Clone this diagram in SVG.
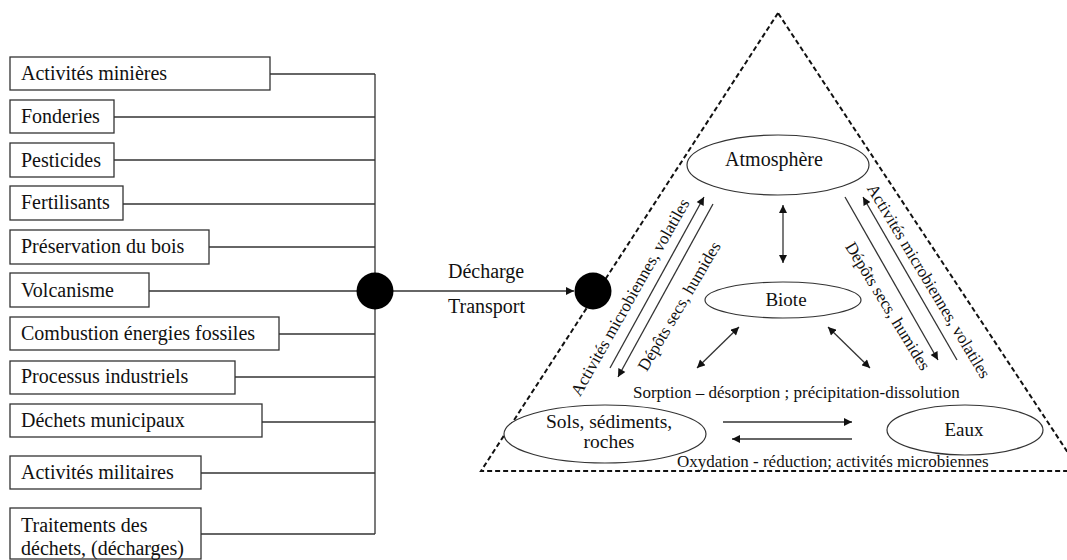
<svg xmlns="http://www.w3.org/2000/svg" width="1067" height="560" viewBox="0 0 1067 560">
<defs>
<style>
.box{fill:#fff;stroke:#333;stroke-width:1.3}
.ell{fill:#fff;stroke:#333;stroke-width:1.2}
.ln{fill:none;stroke:#333;stroke-width:1.3}
.t{font-family:"Liberation Serif","Times New Roman",serif;font-size:20px;fill:#111}
.s{font-family:"Liberation Serif","Times New Roman",serif;font-size:17px;fill:#111}
.m{text-anchor:middle}
.dot{fill:#000}
</style>
<marker id="ah" viewBox="0 0 10 10" refX="10" refY="5" markerWidth="9" markerHeight="8" markerUnits="userSpaceOnUse" orient="auto-start-reverse">
<path d="M0,0 L10,5 L0,10 z" fill="#111"/>
</marker>
</defs>
<rect width="1067" height="560" fill="#fff"/>

<g id="triangle">
<polygon points="778,13 481,471 1080,471" fill="none" stroke="#111" stroke-width="2" stroke-dasharray="5 3"/>
</g>

<g id="connectors">
<path class="ln" d="M375,74 V534"/>
<path class="ln" d="M270,74 H375"/>
<path class="ln" d="M114,117 H375"/>
<path class="ln" d="M114,160 H375"/>
<path class="ln" d="M123,204 H375"/>
<path class="ln" d="M209,247 H375"/>
<path class="ln" d="M149,291 H375"/>
<path class="ln" d="M279,334 H375"/>
<path class="ln" d="M235,377 H375"/>
<path class="ln" d="M262,422 H375"/>
<path class="ln" d="M201,473 H375"/>
<path class="ln" d="M201,534 H375"/>
<path class="ln" d="M393,291 H574" marker-end="url(#ah)"/>
<path class="ln" d="M783,205 V263" marker-start="url(#ah)" marker-end="url(#ah)"/>
<path class="ln" d="M697,368 L739,327" marker-start="url(#ah)" marker-end="url(#ah)"/>
<path class="ln" d="M828,327 L870,368" marker-start="url(#ah)" marker-end="url(#ah)"/>
<path class="ln" d="M610,368 L704,197" marker-end="url(#ah)"/>
<path class="ln" d="M713,204 L618,377" marker-end="url(#ah)"/>
<path class="ln" d="M845,197 L938,360" marker-end="url(#ah)"/>
<path class="ln" d="M957,360 L863,197" marker-end="url(#ah)"/>
<path class="ln" d="M723,422 H852" marker-end="url(#ah)"/>
<path class="ln" d="M852,439 H732" marker-end="url(#ah)"/>
</g>

<g id="labels">
<text class="t" x="448" y="278">Décharge</text>
<text class="t" x="448" y="313">Transport</text>
<text class="s" x="633" y="398">Sorption – désorption ; précipitation-dissolution</text>
<text class="s" x="677" y="467">Oxydation - réduction; activités microbiennes</text>
<text class="s m" x="635" y="300" transform="rotate(-60.5 635 300)">Activités microbiennes, volatiles</text>
<text class="s m" x="684" y="309" transform="rotate(-59.5 684 309)">Dépôts secs, humides</text>
<text class="s m" x="924" y="284" transform="rotate(59 924 284)">Activités microbiennes, volatiles</text>
<text class="s m" x="883" y="309" transform="rotate(58.5 883 309)">Dépôts secs, humides</text>
</g>

<g id="hub1"><circle class="dot" cx="375" cy="291" r="18.5"/></g>
<g id="hub2"><circle class="dot" cx="593" cy="291" r="18.5"/></g>

<g id="n-mines"><rect class="box" x="10" y="57" width="260" height="33"/><text class="t" x="21" y="80">Activités minières</text></g>
<g id="n-fonderies"><rect class="box" x="10" y="100" width="104" height="33"/><text class="t" x="21" y="123">Fonderies</text></g>
<g id="n-pesticides"><rect class="box" x="10" y="143" width="104" height="34"/><text class="t" x="21" y="167">Pesticides</text></g>
<g id="n-fertilisants"><rect class="box" x="10" y="186" width="113" height="34"/><text class="t" x="21" y="209">Fertilisants</text></g>
<g id="n-bois"><rect class="box" x="10" y="230" width="199" height="34"/><text class="t" x="21" y="253">Préservation du bois</text></g>
<g id="n-volcanisme"><rect class="box" x="10" y="273" width="139" height="34"/><text class="t" x="21" y="297">Volcanisme</text></g>
<g id="n-combustion"><rect class="box" x="10" y="317" width="269" height="33"/><text class="t" x="21" y="340">Combustion énergies fossiles</text></g>
<g id="n-industriels"><rect class="box" x="10" y="361" width="225" height="33"/><text class="t" x="21" y="383">Processus industriels</text></g>
<g id="n-municipaux"><rect class="box" x="10" y="404" width="252" height="33"/><text class="t" x="21" y="427">Déchets municipaux</text></g>
<g id="n-militaires"><rect class="box" x="10" y="456" width="191" height="33"/><text class="t" x="21" y="479">Activités militaires</text></g>
<g id="n-traitements"><rect class="box" x="10" y="508" width="191" height="51"/><text class="t" x="21" y="532">Traitements des</text><text class="t" x="21" y="555">déchets, (décharges)</text></g>

<g id="n-atmosphere"><ellipse class="ell" cx="778" cy="165" rx="91" ry="30"/><text class="t m" x="774" y="166">Atmosphère</text></g>
<g id="n-biote"><ellipse class="ell" cx="783" cy="300" rx="78" ry="18"/><text class="t m" x="786" y="306" style="font-size:19px">Biote</text></g>
<g id="n-sols"><ellipse class="ell" cx="605" cy="434" rx="101" ry="29"/><text class="t m" x="609" y="428" style="font-size:19.5px">Sols, sédiments,</text><text class="t m" x="609" y="448" style="font-size:19.5px">roches</text></g>
<g id="n-eaux"><ellipse class="ell" cx="965" cy="430" rx="78" ry="25"/><text class="t m" x="964" y="436" style="font-size:19px">Eaux</text></g>
</svg>
